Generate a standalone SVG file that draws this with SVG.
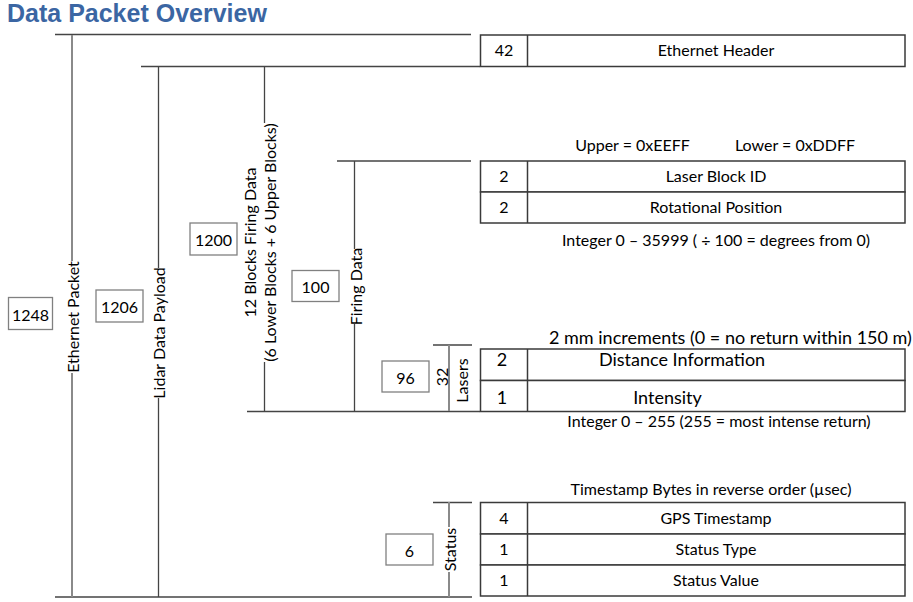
<svg xmlns="http://www.w3.org/2000/svg" width="913" height="602" viewBox="0 0 913 602">
<style>
.bg{fill:#fff}
.hl{stroke:#444;stroke-width:1.5;fill:none}
.vd{stroke:#444;stroke-width:1.3;fill:none}
.vg{stroke:#8a8a8a;stroke-width:2;fill:none}
.nb{fill:#fff;stroke:#808080;stroke-width:1.3}
.tb{fill:#fff;stroke:#3a3a3a;stroke-width:1.5}
.t{font-family:Lato,"Liberation Sans",sans-serif;font-size:16px;fill:#000}
.c{text-anchor:middle}
.m{dominant-baseline:central}
.big{font-size:18px}
.title{font-family:"Liberation Sans",Arial,sans-serif;font-weight:bold;font-size:25px;fill:#3b66a3}
</style>
<rect class="bg" x="0" y="0" width="913" height="602"/>
<text class="title" x="7" y="22">Data Packet Overview</text>

<g id="connectors">
  <line class="hl" x1="55" y1="34.5" x2="471" y2="34.5"/>
  <line class="hl" x1="141" y1="66.5" x2="480" y2="66.5"/>
  <line class="hl" x1="337" y1="161" x2="471" y2="161"/>
  <line class="hl" x1="433" y1="345" x2="472" y2="345"/>
  <line class="hl" x1="247" y1="411.5" x2="480" y2="411.5"/>
  <line class="hl" x1="433" y1="502.5" x2="472" y2="502.5"/>
  <line class="hl" x1="55" y1="597" x2="472" y2="597"/>
  <line class="vg" x1="72" y1="35" x2="72" y2="261"/>
  <line class="vg" x1="72" y1="373" x2="72" y2="597"/>
  <line class="vd" x1="158.5" y1="67" x2="158.5" y2="268"/>
  <line class="vd" x1="158.5" y1="398" x2="158.5" y2="597"/>
  <line class="vd" x1="264.5" y1="67" x2="264.5" y2="123"/>
  <line class="vd" x1="264.5" y1="362" x2="264.5" y2="411"/>
  <line class="vd" x1="354.5" y1="161" x2="354.5" y2="249"/>
  <line class="vd" x1="354.5" y1="324" x2="354.5" y2="411"/>
  <line class="vg" x1="449" y1="345" x2="449" y2="411"/>
  <line class="vg" x1="449" y1="502" x2="449" y2="527"/>
  <line class="vg" x1="449" y1="572" x2="449" y2="597"/>
</g>

<g id="label-ethernet-packet">
  <text class="t c m" transform="translate(72,317) rotate(-90)">Ethernet Packet</text>
</g>
<g id="label-lidar-payload">
  <text class="t c m" transform="translate(158.5,333) rotate(-90)">Lidar Data Payload</text>
</g>
<g id="label-12-blocks">
  <text class="t c m" transform="translate(249,242.5) rotate(-90)">12 Blocks Firing Data</text>
  <text class="t c m" transform="translate(269,242.5) rotate(-90)">(6 Lower Blocks + 6 Upper Blocks)</text>
</g>
<g id="label-firing-data">
  <text class="t c m" transform="translate(355,286.5) rotate(-90)">Firing Data</text>
</g>
<g id="label-32-lasers">
  <text class="t c m" transform="translate(441,377) rotate(-90)">32</text>
  <text class="t c m" transform="translate(461,380.5) rotate(-90)">Lasers</text>
</g>
<g id="label-status">
  <text class="t c m" transform="translate(449.5,549.5) rotate(-90)">Status</text>
</g>

<g id="box-1248">
  <rect class="nb" x="8.5" y="297.5" width="44" height="32"/>
  <text class="t c m" x="30.5" y="314">1248</text>
</g>
<g id="box-1206">
  <rect class="nb" x="96" y="290" width="47" height="32"/>
  <text class="t c m" x="119.5" y="306.5">1206</text>
</g>
<g id="box-1200">
  <rect class="nb" x="190" y="223" width="47" height="32"/>
  <text class="t c m" x="213.5" y="239.5">1200</text>
</g>
<g id="box-100">
  <rect class="nb" x="292" y="270.5" width="47" height="31"/>
  <text class="t c m" x="315.5" y="286.5">100</text>
</g>
<g id="box-96">
  <rect class="nb" x="382" y="361" width="47" height="31"/>
  <text class="t c m" x="405.5" y="377">96</text>
</g>
<g id="box-6">
  <rect class="nb" x="386" y="534" width="47" height="31"/>
  <text class="t c m" x="409.5" y="550">6</text>
</g>

<g id="table-ethernet-header">
  <rect class="tb" x="480.5" y="35" width="424.5" height="31.5"/>
  <line class="tb" x1="527.5" y1="35" x2="527.5" y2="66.5"/>
  <text class="t c" x="504" y="56">42</text>
  <text class="t c" x="716" y="56">Ethernet Header</text>
</g>

<g id="table-firing-block">
  <text class="t c" x="632.5" y="151">Upper = 0xEEFF</text>
  <text class="t c" x="795" y="151">Lower = 0xDDFF</text>
  <rect class="tb" x="480.5" y="161" width="424.5" height="31"/>
  <rect class="tb" x="480.5" y="192" width="424.5" height="31"/>
  <line class="tb" x1="527.5" y1="161" x2="527.5" y2="223"/>
  <text class="t c" x="504" y="182">2</text>
  <text class="t c" x="716" y="182">Laser Block ID</text>
  <text class="t c" x="504" y="213">2</text>
  <text class="t c" x="716" y="213">Rotational Position</text>
  <text class="t c" x="716" y="246">Integer 0 – 35999 ( ÷ 100 = degrees from 0)</text>
</g>

<g id="table-laser">
  <text class="t big" x="549" y="344">2 mm increments (0 = no return within 150 m)</text>
  <rect class="tb" x="480.5" y="349" width="424.5" height="31.5"/>
  <rect class="tb" x="480.5" y="380.5" width="424.5" height="31"/>
  <line class="tb" x1="527.5" y1="349" x2="527.5" y2="411.5"/>
  <text class="t big c" x="502" y="366">2</text>
  <text class="t big" x="599" y="366">Distance Information</text>
  <text class="t big c" x="667.5" y="404">Intensity</text>
  <text class="t big c" x="502" y="404">1</text>
  <text class="t c" x="719" y="427">Integer 0 – 255 (255 = most intense return)</text>
</g>

<g id="table-status">
  <text class="t c" x="711" y="495">Timestamp Bytes in reverse order (µsec)</text>
  <rect class="tb" x="480.5" y="502.5" width="424.5" height="31.5"/>
  <rect class="tb" x="480.5" y="534" width="424.5" height="31"/>
  <rect class="tb" x="480.5" y="565" width="424.5" height="31"/>
  <line class="tb" x1="527.5" y1="502.5" x2="527.5" y2="596"/>
  <text class="t c" x="504" y="524">4</text>
  <text class="t c" x="716" y="524">GPS Timestamp</text>
  <text class="t c" x="504" y="555">1</text>
  <text class="t c" x="716" y="555">Status Type</text>
  <text class="t c" x="504" y="586">1</text>
  <text class="t c" x="716" y="586">Status Value</text>
</g>
</svg>
